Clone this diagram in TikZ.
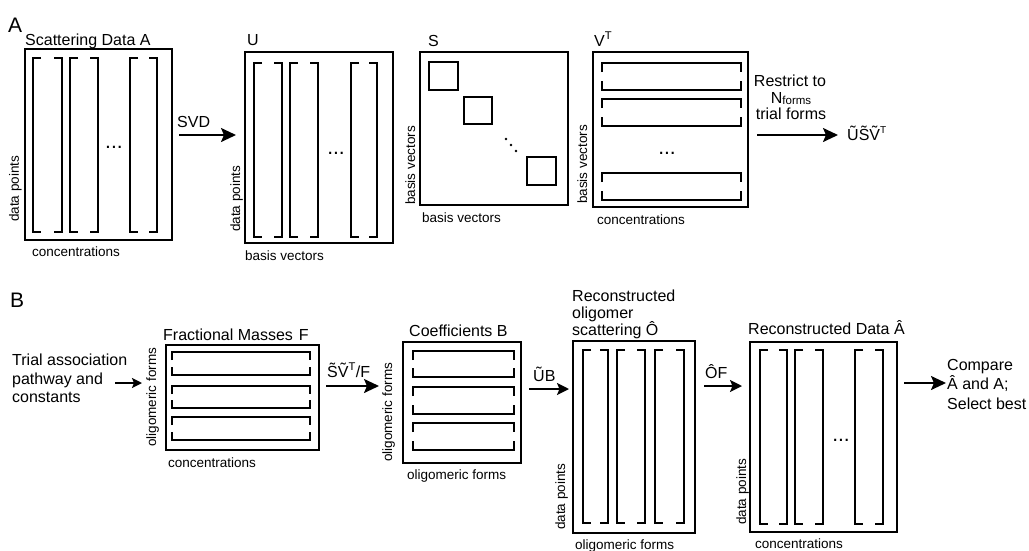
\documentclass[tikz,border=0pt]{standalone}
\usepackage{fontspec}
\setmainfont{Liberation Sans}
\usetikzlibrary{arrows.meta,fit}
\newcommand\tld[1]{{\accent"02DC #1}}
\newcommand\vbr[4]{%
  \draw[brk] ({#1+8},#3) -| (#1,#4) -- ({#1+8},#4);
  \draw[brk] ({#2-8},#3) -| (#2,#4) -- ({#2-8},#4);}
\newcommand\hbr[5]{%
  \draw[brk] (#1,{#3+#5}) |- (#2,#3) -- (#2,{#3+#5});
  \draw[brk] (#1,{#4-#5}) |- (#2,#4) -- (#2,{#4-#5});}
\begin{document}
\begin{tikzpicture}[x=1pt,y=-1pt,
  box/.style={draw, line width=2pt, inner sep=0pt},
  brk/.style={line width=1.8pt},
  sq/.style={line width=2pt},
  arr/.style={line width=2pt, -{Stealth[length=15pt,width=14pt,inset=3pt]}},
  sarr/.style={line width=2pt, -{Stealth[length=12pt,width=12pt,inset=2.5pt]}},
  tarr/.style={line width=1.8pt, -{Stealth[length=10pt,width=10pt,inset=2pt]}},
  ttl/.style={font=\fontsize{16}{19}\selectfont, inner sep=0pt, anchor=base west},
  big/.style={font=\fontsize{21}{24}\selectfont, inner sep=0pt, anchor=base west},
  lbl/.style={font=\fontsize{13.5}{16}\selectfont, inner sep=0pt, anchor=base west},
  rlbl/.style={lbl, rotate=90},
  dts/.style={font=\fontsize{21}{23}\selectfont, inner sep=0pt, anchor=base},
  ctr/.style={font=\fontsize{16}{19}\selectfont, inner sep=0pt, anchor=base},
]
\useasboundingbox (0,0) rectangle (1029,550);

% ---------------- Panel A ----------------
\node[big] (lA) at (8,32) {A};

\node[ttl] (tA) at (25,45) {Scattering Data A};
\node[box, fit={(25,49)(172,240)}] (A) {};
\vbr{33}{62}{58}{232}
\vbr{70}{98}{58}{232}
\vbr{130}{157}{58}{232}
\node[dts] (dA) at (114,148) {...};
\node[rlbl] (rA) at (19,222) {data points};
\node[lbl] (cA) at (32,256) {concentrations};
\node[ttl] (svd) at (177,127) {SVD};

\node[ttl] (tU) at (247,45) {U};
\node[box, fit={(245,52)(393,243)}] (U) {};
\vbr{254}{282}{63}{237}
\vbr{290}{318}{63}{237}
\vbr{351}{377}{63}{237}
\node[dts] (dU) at (336,154) {...};
\node[rlbl] (rU) at (240,232) {data points};
\node[lbl] (cU) at (245,260) {basis vectors};

\node[ttl] (tS) at (428,46) {S};
\node[box, fit={(420,52)(568,205)}] (S) {};
\draw[sq] (429,62) rectangle (458,90);
\draw[sq] (464,97) rectangle (492,124);
\draw[sq] (527,157) rectangle (556,185);
\fill (506,139) circle (1.4);
\fill (511,145) circle (1.4);
\fill (516,151) circle (1.4);
\node[rlbl] (rS) at (415,205) {basis vectors};
\node[lbl] (cS) at (422,222) {basis vectors};

\node[ttl] (tV) at (594,46) {V\textsuperscript{T}};
\node[box, fit={(593,52)(748,207)}] (VT) {};
\hbr{602}{741}{63}{90}{9}
\hbr{602}{741}{99}{126}{9}
\hbr{602}{741}{173}{200}{9}
\node[dts] (dV) at (667,154) {...};
\node[rlbl] (rV) at (587,204) {basis vectors};
\node[lbl] (cV) at (597,224) {concentrations};

\node[ctr] (re1) at (790,86) {Restrict to};
\node[ctr] (re2) at (791,103) {N{\fontsize{11.5}{12}\selectfont\raisebox{-1pt}{forms}}};
\node[ctr] (re3) at (791,119) {trial forms};
\node[ttl] (R) at (847,140) {\tld{U}\tld{S}\tld{V}\textsuperscript{\fontsize{10}{12}\selectfont T}};

% ---------------- Panel B ----------------
\node[big] (lB) at (10,307) {B};

\node[ttl] (tp1) at (12,365) {Trial association};
\node[ttl] (tp2) at (12,384) {pathway and};
\node[ttl] (tp3) at (12,402) {constants};

\node[ttl] (tF) at (163,340) {Fractional Masses\hspace{6pt}F};
\node[box, fit={(166,345)(319,450)}] (F) {};
\hbr{172}{310}{352}{375}{8}
\hbr{172}{310}{386}{408}{8}
\hbr{172}{310}{417}{440}{8}
\node[rlbl] (rF) at (156,447) {oligomeric forms};
\node[lbl] (cF) at (168,467) {concentrations};
\node[ttl] (lsv) at (327,377) {\tld{S}\tld{V}\textsuperscript{T}/F};

\node[ttl] (tB) at (409,336) {Coefficients B};
\node[box, fit={(403,342)(521,463)}] (B) {};
\hbr{413}{514}{351}{377}{9}
\hbr{413}{514}{387}{414}{9}
\hbr{413}{514}{423}{450}{9}
\node[rlbl] (rB) at (392,462) {oligomeric forms};
\node[lbl] (cB) at (407,479) {oligomeric forms};
\node[ttl] (lub) at (533,381) {\tld{U}B};

\node[ttl] (tO1) at (572,301) {Reconstructed};
\node[ttl] (tO2) at (572,318) {oligomer};
\node[ttl] (tO3) at (572,335) {scattering Ô};
\node[box, fit={(573,341)(695,533)}] (O) {};
\vbr{583}{608}{350}{523}
\vbr{617}{645}{350}{523}
\vbr{655}{684}{350}{523}
\node[rlbl] (rO) at (565,530) {data points};
\node[lbl] (cO) at (575,549) {oligomeric forms};
\node[ttl] (lof) at (705,378) {ÔF};

\node[ttl] (tAh) at (748,334) {Reconstructed Data Â};
\node[box, fit={(750,342)(897,532)}] (Ah) {};
\vbr{760}{787}{350}{524}
\vbr{795}{823}{350}{524}
\vbr{855}{883}{350}{524}
\node[dts] (dAh) at (841,441) {...};
\node[rlbl] (rAh) at (746,525) {data points};
\node[lbl] (cAh) at (755,548) {concentrations};

\node[ttl] (cp1) at (947,370) {Compare};
\node[ttl] (cp2) at (947,389) {Â and A;};
\node[ttl] (cp3) at (947,409) {Select best};

% ---------------- Connectors ----------------
\coordinate (ya) at (0,135);
\draw[arr, shorten <=6pt, shorten >=8pt] (A.east |- ya) -- (U.west |- ya);
\coordinate (yr) at (0,135);
\draw[arr, shorten <=8pt, shorten >=9pt] (VT.east |- yr) -- (R.west |- yr);
\coordinate (yt) at (0,383);
\draw[tarr, shorten <=12pt, shorten >=23pt] (tp2.east |- yt) -- (F.west |- yt);
\coordinate (yf) at (0,386);
\draw[arr, shorten <=6pt, shorten >=23pt] (F.east |- yf) -- (B.west |- yf);
\coordinate (yb) at (0,389);
\draw[sarr, shorten <=7pt, shorten >=3pt] (B.east |- yb) -- (O.west |- yb);
\coordinate (yo) at (0,386);
\draw[sarr, shorten <=8pt, shorten >=7pt] (O.east |- yo) -- (Ah.west |- yo);
\coordinate (yc) at (0,383);
\draw[arr, shorten <=6pt, shorten >=1pt] (Ah.east |- yc) -- (cp2.west |- yc);
\end{tikzpicture}
\end{document}
